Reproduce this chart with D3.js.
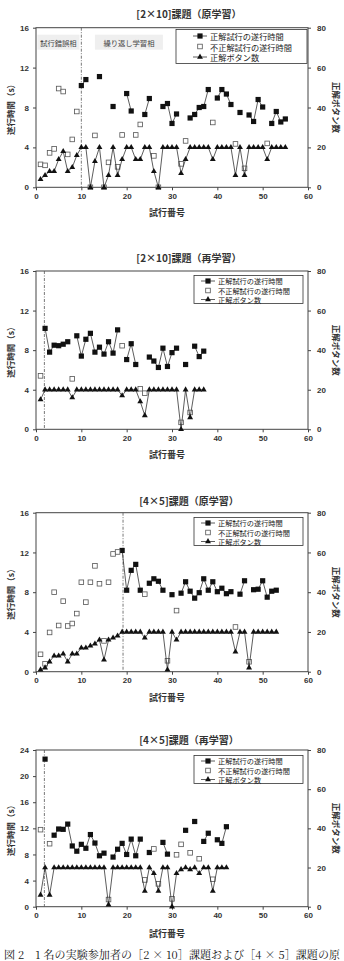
<!DOCTYPE html>
<html>
<head>
<meta charset="utf-8">
<script src="https://cdn.jsdelivr.net/npm/d3@7"></script>
<style>
  body { margin: 0; background: #fff; }
  svg { display: block; }
</style>
</head>
<body>
<div id="chart"></div>
<script>
// ---- data (trial n = index + 1, null = no value for that trial) ----
const xTicks = [0, 10, 20, 30, 40, 50, 60];
const rightTicks = [0, 20, 40, 60, 80];
const leftTicks16 = [0, 4, 8, 12, 16];
const leftTicks24 = [0, 4, 8, 12, 16, 20, 24];
const legendLabels = ["正解試行の遂行時間", "不正解試行の遂行時間", "正解ボタン数"];
const phaseLabels = ["試行錯誤相", "繰り返し学習相"];
const panelTitles = ["[2×10]課題（原学習）", "[2×10]課題（再学習）", "[4×5]課題（原学習）", "[4×5]課題（再学習）"];
const splitTrials = [10, 1.85, 19.2, 1.85];

// [2x10] 原学習
const p1Correct = [null,null,null,null,null,null,null,null,null,10.2,
  10.8,null,null,11.1,null,null,8.1,null,null,9.4,
  7.65,null,null,7.3,8.9,null,null,8.1,8.4,6.4,
  7.35,null,null,6.95,7.3,8.0,8.1,9.8,null,8.95,
  9.8,9.35,8.3,null,7.5,null,7.25,6.6,8.8,8.05,
  null,6.4,7.6,6.55,6.85];
const p1Wrong = [2.3,2.2,3.45,3.85,9.9,9.6,3.3,4.8,7.6,null,
  null,0,5.2,null,0,2.5,null,2.05,5.25,null,
  null,5.25,6.3,null,null,3.15,0,null,null,null,
  null,2.35,4.65,null,null,null,null,null,6.5,null,
  null,null,null,4.35,null,1.9,null,null,null,null,
  4.4,null,null,null,null];
const p1Buttons = [4,6,8,8,14,18,8,10,16,20,
  20,0,13,20,0,6,20,6,14,20,
  20,14,14,20,20,8,0,20,20,20,
  20,7,14,20,20,20,20,20,14,20,
  20,20,20,6,20,6,20,20,20,20,
  14,20,20,20,20];

// [2x10] 再学習
const p2Correct = [null,10.2,7.8,8.5,8.45,8.6,8.85,null,9.45,7.4,
  9.1,9.7,7.8,8.3,7.6,8.85,7.7,10.05,null,7.05,
  8.65,6.55,null,null,7.3,6.9,6.25,8.2,6.35,7.75,
  8.2,null,6.55,null,8.4,7.35,7.9];
const p2Wrong = [5.4,null,null,null,null,null,null,5.1,null,null,
  null,null,null,null,null,null,null,null,8.45,null,
  null,null,4.1,3.65,null,null,null,null,null,null,
  null,0.7,null,1.7,null,null,null];
const p2Buttons = [15,20,20,20,20,20,20,16,20,20,
  20,20,20,20,20,20,20,20,17,20,
  20,20,14,7,20,20,20,20,20,20,
  20,0,20,6,20,20,20];

// [4x5] 原学習
const p3Correct = [null,null,null,null,null,null,null,null,null,null,
  null,null,null,null,null,null,null,null,12.2,8.2,
  10.2,10.8,8.2,null,8.9,9.35,9.1,8.2,null,7.75,
  null,7.9,9.05,8.1,7.4,7.95,9.35,8.2,9.05,8.05,
  8.4,7.85,8.05,null,7.8,9.15,null,8.25,8.3,9.15,
  7.5,8.1,8.2];
const p3Wrong = [1.75,0.8,3.95,8.0,4.65,7.1,4.6,4.85,5.85,9.0,
  7.0,9.0,10.65,8.85,3.1,9.0,11.85,12.05,null,null,
  null,null,null,7.8,null,null,null,null,1.1,null,
  6.15,null,null,null,null,null,null,null,null,null,
  null,null,null,4.5,null,null,1.0,null,null,null,
  null,null,null];
const p3Buttons = [1,2,5,8,8,9,5,9,9,12,
  12,13,14,16,6,16,17,18,20,20,
  20,20,20,17,20,20,20,20,1,20,
  16,20,20,20,20,20,20,20,20,20,
  20,20,20,10,20,20,2,20,20,20,
  20,20,20];

// [4x5] 再学習
const p4Correct = [null,22.6,null,10.95,11.9,11.85,12.65,9.3,8.5,9.55,
  8.95,11.05,9.75,7.8,8.2,null,7.6,8.8,9.7,8.0,
  10.35,7.8,10.35,null,8.3,null,null,9.85,8.05,null,
  null,null,11.7,null,13.05,null,10.0,11.25,null,10.25,
  9.7,12.25];
const p4Wrong = [11.8,null,9.65,null,null,null,null,null,null,null,
  null,null,null,null,null,1.1,null,null,null,null,
  null,null,null,4.1,null,8.85,3.5,null,null,1.2,
  7.95,9.55,null,8.25,null,7.35,null,null,4.2,null,
  null,null];
const p4Buttons = [6,20,6,20,20,20,20,20,20,20,
  20,20,20,20,20,1,20,20,20,20,
  20,20,20,8,20,17,8,20,20,0,
  17,19,20,19,20,17,20,20,8,20,
  20,20];

const caption = "図 2　1 名の実験参加者の［2 × 10］課題および［4 × 5］課題の原";

// ---- layout ----
const JP = "'Noto Sans CJK JP', sans-serif";
const NUM = "'Liberation Sans', Arial, sans-serif";

const panels = [
  { title: panelTitles[0], correct: p1Correct, wrong: p1Wrong, buttons: p1Buttons, leftTicks: leftTicks16,
    split: splitTrials[0], top: 27.7, bottom: 187.3, titleY: 13, labelY: 212.7, phases: true,
    legend: { x: 176, y: 29.5, w: 131, h: 34, sx: 193, tx: 210, rows: [36, 46.5, 57], fs: 8.2 } },
  { title: panelTitles[1], correct: p2Correct, wrong: p2Wrong, buttons: p2Buttons, leftTicks: leftTicks16,
    split: splitTrials[1], top: 271, bottom: 429.3, titleY: 257.3, labelY: 454.3,
    legend: { x: 194, y: 275.5, w: 109, h: 28, sx: 201, tx: 218, rows: [281, 290.5, 299.5], fs: 7.2 } },
  { title: panelTitles[2], correct: p3Correct, wrong: p3Wrong, buttons: p3Buttons, leftTicks: leftTicks16,
    split: splitTrials[2], top: 512.7, bottom: 671.7, titleY: 500, labelY: 697.3,
    legend: { x: 194, y: 517.5, w: 109, h: 28, sx: 201, tx: 218, rows: [523, 532.5, 541.5], fs: 7.2 } },
  { title: panelTitles[3], correct: p4Correct, wrong: p4Wrong, buttons: p4Buttons, leftTicks: leftTicks24,
    split: splitTrials[3], top: 750, bottom: 906.7, titleY: 739.3, labelY: 933.3,
    legend: { x: 194, y: 755.5, w: 109, h: 28, sx: 201, tx: 218, rows: [761, 770.5, 779.5], fs: 7.2 } }
];

const svg = d3.select("#chart").append("svg")
  .attr("width", 344).attr("height", 961)
  .attr("viewBox", "0 0 344 961");
svg.append("rect").attr("width", 344).attr("height", 961).attr("fill", "#fff");

const tri = d3.symbol().type(d3.symbolTriangle).size(15);

function styleAxis(sel) {
  sel.select(".domain").remove();
  sel.selectAll(".tick line").attr("stroke", "#444");
  sel.selectAll("text").attr("fill", "#333").attr("font-size", 8)
    .attr("font-family", NUM).attr("font-weight", "bold");
}

function drawPanel(p) {
  const x = d3.scaleLinear().domain([0, 60]).range([36, 308]);
  const y = d3.scaleLinear().domain([0, d3.max(p.leftTicks)]).range([p.bottom, p.top]);
  const yR = d3.scaleLinear().domain([0, 80]).range([p.bottom, p.top]);
  const g = svg.append("g");

  // phase tags (first panel only)
  if (p.phases) {
    [[x(0.3), x(9.6), 0], [x(13), x(28), 1]].forEach(([a, b, k]) => {
      g.append("rect").attr("x", a).attr("y", p.top + 7).attr("width", b - a).attr("height", 15)
        .attr("fill", "#efefef");
      g.append("text").attr("x", (a + b) / 2).attr("y", p.top + 15)
        .attr("text-anchor", "middle").attr("dominant-baseline", "central")
        .attr("font-family", JP).attr("font-size", 7.3).attr("fill", "#444")
        .text(phaseLabels[k]);
    });
  }

  // frame
  g.append("rect").attr("x", 36).attr("y", p.top)
    .attr("width", 272).attr("height", p.bottom - p.top)
    .attr("fill", "none").attr("stroke", "#444").attr("stroke-width", 1);

  g.append("g").attr("transform", "translate(36,0)")
    .call(d3.axisLeft(y).tickValues(p.leftTicks).tickSize(3).tickPadding(4))
    .call(styleAxis);
  g.append("g").attr("transform", "translate(308,0)")
    .call(d3.axisRight(yR).tickValues(rightTicks).tickSize(3).tickPadding(6))
    .call(styleAxis);
  g.append("g").attr("transform", `translate(0,${p.bottom})`)
    .call(d3.axisBottom(x).tickValues(xTicks).tickSize(3).tickPadding(3))
    .call(styleAxis);

  // dash-dot split line
  g.append("line").attr("x1", x(p.split)).attr("x2", x(p.split))
    .attr("y1", p.top).attr("y2", p.bottom)
    .attr("stroke", "#555").attr("stroke-width", 0.8)
    .attr("stroke-dasharray", "3,1.5,1,1.5");

  // titles
  g.append("text").attr("x", 189).attr("y", p.titleY)
    .attr("text-anchor", "middle").attr("dominant-baseline", "central")
    .attr("font-family", JP).attr("font-size", 10).attr("font-weight", "bold").attr("fill", "#333")
    .text(p.title);
  g.append("text").attr("x", 167).attr("y", p.labelY)
    .attr("text-anchor", "middle").attr("dominant-baseline", "central")
    .attr("font-family", JP).attr("font-size", 9).attr("font-weight", "bold").attr("fill", "#333")
    .text("試行番号");
  const midY = (p.top + p.bottom) / 2;
  g.append("text").attr("transform", `translate(10,${midY}) rotate(-90)`)
    .attr("text-anchor", "middle").attr("dominant-baseline", "central")
    .attr("font-family", JP).attr("font-size", 8.5).attr("font-weight", "bold").attr("fill", "#333")
    .text("遂行時間（s）");
  g.append("text").attr("transform", `translate(337,${midY}) rotate(90)`)
    .attr("text-anchor", "middle").attr("dominant-baseline", "central")
    .attr("font-family", JP).attr("font-size", 8.5).attr("font-weight", "bold").attr("fill", "#333")
    .text("正解ボタン数");

  // correct-trial times
  const cRows = p.correct.map((v, i) => ({ t: i + 1, v }));
  g.append("path").datum(cRows)
    .attr("d", d3.line().defined(d => d.v != null).x(d => x(d.t)).y(d => y(d.v)))
    .attr("fill", "none").attr("stroke", "#333").attr("stroke-width", 0.8);
  g.selectAll(".sq").data(cRows.filter(d => d.v != null)).join("rect")
    .attr("x", d => x(d.t) - 2.6).attr("y", d => y(d.v) - 2.6)
    .attr("width", 5.2).attr("height", 5.2).attr("fill", "#111");

  // incorrect-trial times
  const wRows = p.wrong.map((v, i) => ({ t: i + 1, v })).filter(d => d.v != null);
  g.selectAll(".osq").data(wRows).join("rect")
    .attr("x", d => x(d.t) - 2.3).attr("y", d => y(d.v) - 2.3)
    .attr("width", 4.6).attr("height", 4.6)
    .attr("fill", "#fff").attr("stroke", "#555").attr("stroke-width", 0.8);

  // correct button count (right axis)
  const bRows = p.buttons.map((v, i) => ({ t: i + 1, v }));
  g.append("path").datum(bRows)
    .attr("d", d3.line().x(d => x(d.t)).y(d => yR(d.v)))
    .attr("fill", "none").attr("stroke", "#333").attr("stroke-width", 0.8);
  g.selectAll(".tri").data(bRows).join("path")
    .attr("transform", d => `translate(${x(d.t)},${yR(d.v)})`)
    .attr("d", tri).attr("fill", "#111");

  // legend
  const L = p.legend;
  g.append("rect").attr("x", L.x).attr("y", L.y).attr("width", L.w).attr("height", L.h)
    .attr("fill", "#fff").attr("stroke", "#333").attr("stroke-width", 0.8);
  const mx = L.sx + 7;
  [0, 2].forEach(k => {
    g.append("line").attr("x1", L.sx).attr("x2", L.sx + 14)
      .attr("y1", L.rows[k]).attr("y2", L.rows[k])
      .attr("stroke", "#333").attr("stroke-width", 0.8);
  });
  g.append("rect").attr("x", mx - 2.6).attr("y", L.rows[0] - 2.6)
    .attr("width", 5.2).attr("height", 5.2).attr("fill", "#111");
  g.append("rect").attr("x", mx - 2.3).attr("y", L.rows[1] - 2.3)
    .attr("width", 4.6).attr("height", 4.6)
    .attr("fill", "#fff").attr("stroke", "#555").attr("stroke-width", 0.8);
  g.append("path").attr("transform", `translate(${mx},${L.rows[2]})`).attr("d", tri).attr("fill", "#111");
  legendLabels.forEach((s, k) => {
    g.append("text").attr("x", L.tx).attr("y", L.rows[k])
      .attr("dominant-baseline", "central")
      .attr("font-family", JP).attr("font-size", L.fs).attr("fill", "#222")
      .text(s);
  });
}

panels.forEach(drawPanel);

svg.append("text").attr("x", 4).attr("y", 954)
  .attr("dominant-baseline", "central")
  .attr("font-family", "'Noto Serif CJK JP', 'Noto Sans CJK JP', serif")
  .attr("font-size", 11).attr("fill", "#111")
  .attr("textLength", 336).attr("lengthAdjust", "spacing")
  .text(caption);
</script>
</body>
</html>
